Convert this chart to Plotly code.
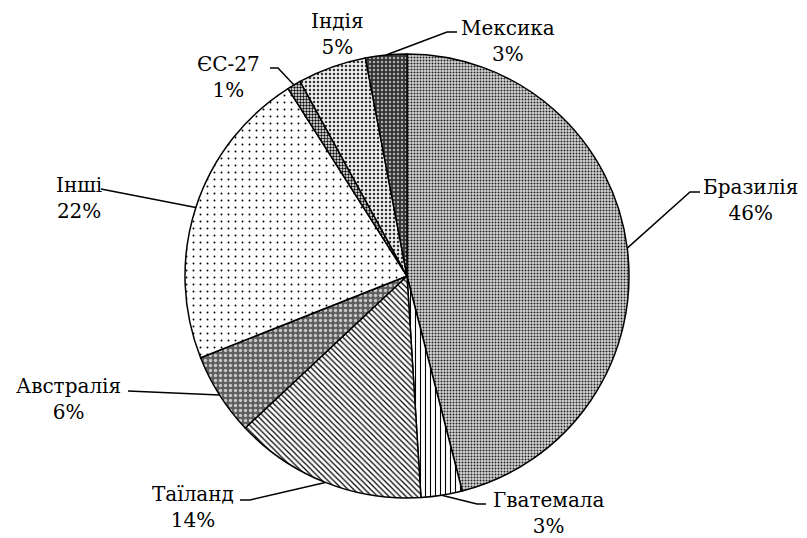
import math
import plotly.graph_objects as go

# data
countries = ["Бразилія", "Гватемала", "Таїланд", "Австралія", "Інші", "ЄС-27", "Індія", "Мексика"]
shares = [46, 3, 14, 6, 22, 1, 5, 3]

W, H = 807, 538
OFF = 8  # page body margin shifts the figure
CX, CY, R = 407, 276, 222
FONT = "DejaVu Serif"


def px(x):
    return (x - OFF) / W


def py(y):
    return 1 - (y - OFF) / H


# fill patterns imitating the black & white hatching
pat_shape = [".", "|", "\\", ".", ".", ".", ".", "."]
pat_fg = ["#222222", "#000000", "#000000", "#c8c8c8", "#000000", "#000000", "#333333", "#b0b0b0"]
pat_bg = ["#d6d6d6", "#ffffff", "#ffffff", "#5e5e5e", "#ffffff", "#ffffff", "#f0f0f0", "#333333"]
pat_size = [3, 5, 4, 5, 7, 3, 4, 4]
pat_solid = [0.35, 0.22, 0.3, 0.35, 0.06, 0.5, 0.3, 0.3]

fig = go.Figure(go.Pie(
    labels=countries,
    values=shares,
    sort=False,
    direction="clockwise",
    rotation=0,
    textinfo="none",
    hoverinfo="label+percent",
    showlegend=False,
    domain=dict(x=[px(CX - 260), px(CX + 260)], y=[py(CY + R), py(CY - R)]),
    marker=dict(
        colors=pat_bg,
        line=dict(color="black", width=1.5),
        pattern=dict(shape=pat_shape, fgcolor=pat_fg, bgcolor=pat_bg,
                     size=pat_size, solidity=pat_solid, fillmode="replace"),
    ),
))

# label block centre and leader hook (text end -> bend), pixels
label_pos = {
    "Бразилія": ((750, 200), [(700, 192), (690, 192)]),
    "Гватемала": ((549, 513), [(486, 504), (477, 504)]),
    "Таїланд": ((193, 507), [(240, 500), (250, 500)]),
    "Австралія": ((68, 399), [(128, 391)]),
    "Інші": ((79, 198), [(101, 189)]),
    "ЄС-27": ((228, 77), [(270, 68), (278, 68)]),
    "Індія": ((337, 34), None),
    "Мексика": ((508, 41), [(457, 32), (447, 32)]),
}

total = sum(shares)
start = 0.0
for name, val in zip(countries, shares):
    mid = (start + val / 2) / total * 2 * math.pi
    start += val
    (tx, ty), hook = label_pos[name]
    fig.add_annotation(
        x=px(tx), y=py(ty), xref="paper", yref="paper",
        text=f"{name}<br>{val}%", showarrow=False,
        xanchor="center", yanchor="middle", align="center",
        font=dict(family=FONT, size=20, color="black"),
    )
    if hook:
        ex = CX + R * math.sin(mid)
        ey = CY - R * math.cos(mid)
        pts = hook + [(ex, ey)]
        path = "M " + " L ".join(f"{px(x)},{py(y)}" for x, y in pts)
        fig.add_shape(type="path", path=path, xref="paper", yref="paper",
                      line=dict(color="black", width=1.5))

fig.update_layout(
    width=W, height=H,
    font=dict(family=FONT),
    margin=dict(l=0, r=0, t=0, b=0),
    paper_bgcolor="white",
    plot_bgcolor="white",
)

fig.write_html("out.html")
